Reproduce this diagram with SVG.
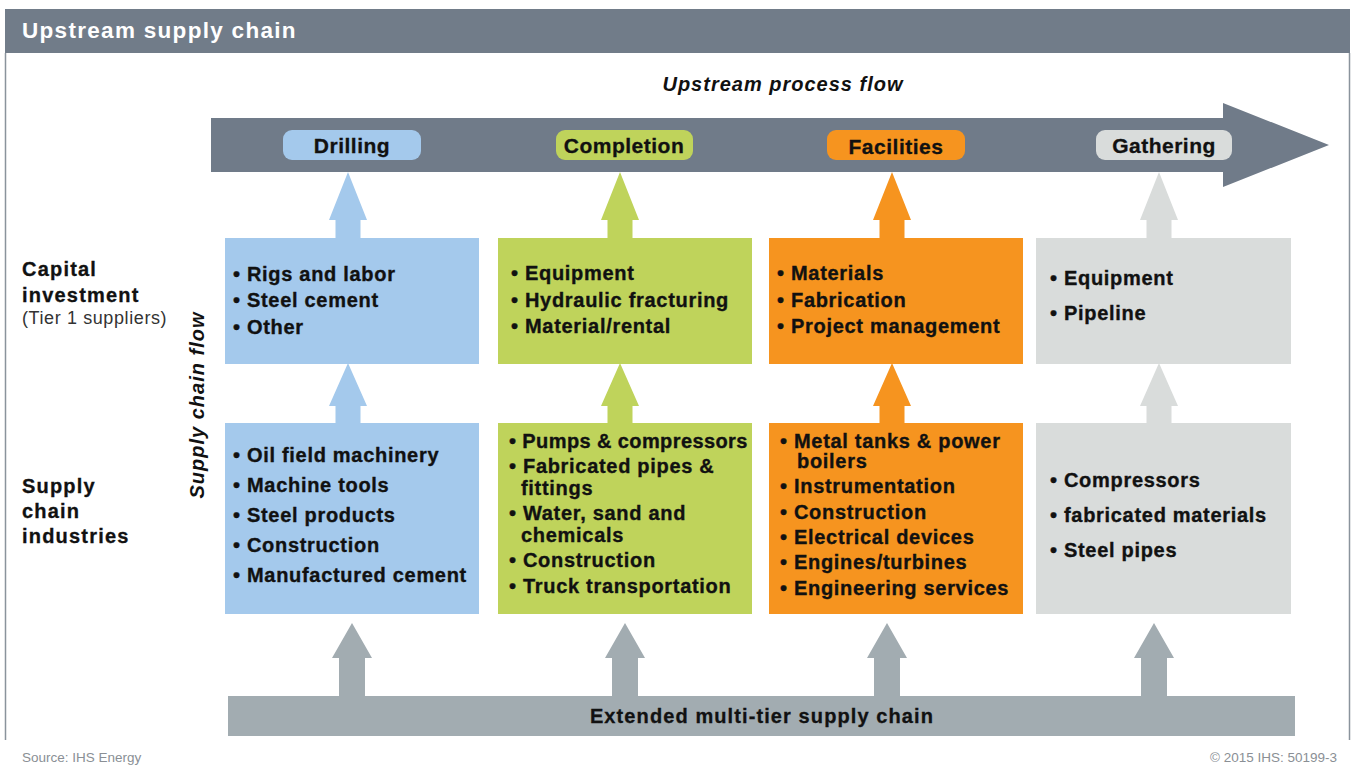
<svg xmlns="http://www.w3.org/2000/svg" width="1352" height="775" viewBox="0 0 1352 775">
<style>
.t{font-family:"Liberation Sans",Arial,sans-serif;font-weight:bold;fill:#111;}
.bx{font-family:"Liberation Sans",Arial,sans-serif;font-weight:bold;font-size:20px;letter-spacing:0.7px;fill:#111;stroke:#111;stroke-width:0.35px;}
.pill{font-family:"Liberation Sans",Arial,sans-serif;font-weight:bold;font-size:21px;letter-spacing:0.5px;fill:#111;text-anchor:middle;stroke:#111;stroke-width:0.3px;}
.lbl{font-family:"Liberation Sans",Arial,sans-serif;font-weight:bold;font-size:20px;letter-spacing:1.2px;fill:#111;stroke:#111;stroke-width:0.3px;}
.foot{font-family:"Liberation Sans",Arial,sans-serif;font-size:13.5px;fill:#8a8f95;}
.blue{fill:#a4c9ec;}
.green{fill:#bfd35b;}
.orange{fill:#f6941f;}
.lgray{fill:#d9dcdb;}
.bgray{fill:#a2acb1;}
</style>
<rect width="1352" height="775" fill="#ffffff"/>
<g id="frame">
<line x1="5.5" y1="53" x2="5.5" y2="740" stroke="#8a939c" stroke-width="1.5"/>
<line x1="1349.5" y1="53" x2="1349.5" y2="740" stroke="#8a939c" stroke-width="1.5"/>
</g>
<g id="header">
<rect x="5" y="9" width="1345" height="44" fill="#717c89"/>
<text x="22" y="38" font-family="Liberation Sans, Arial, sans-serif" font-weight="bold" font-size="22.5" letter-spacing="1.3" fill="#ffffff">Upstream supply chain</text>
</g>
<g id="process-flow">
<text x="783" y="91" class="t" font-size="20" font-style="italic" text-anchor="middle" letter-spacing="1">Upstream process flow</text>
<polygon points="211,118 1223,118 1223,103 1329,145 1223,187 1223,172 211,172" fill="#707b89"/>
</g>
<g id="stage-drilling">
<rect x="283" y="130" width="138" height="30" rx="9" class="blue"/>
<text x="352" y="153" class="pill">Drilling</text>
</g>
<g id="stage-completion">
<rect x="556" y="130" width="137" height="30" rx="9" class="green"/>
<text x="624" y="153" class="pill">Completion</text>
</g>
<g id="stage-facilities">
<rect x="827" y="130" width="138" height="30" rx="9" class="orange"/>
<text x="896" y="154" class="pill">Facilities</text>
</g>
<g id="stage-gathering">
<rect x="1096" y="130" width="136" height="30" rx="9" class="lgray"/>
<text x="1164" y="153" class="pill">Gathering</text>
</g>
<g id="connectors">
<polygon class="blue" points="348,172 367,220 360.5,220 360.5,239 335.5,239 335.5,220 329,220"/>
<polygon class="green" points="620,172 639,220 632.5,220 632.5,239 607.5,239 607.5,220 601,220"/>
<polygon class="orange" points="892,172 911,220 904.5,220 904.5,239 879.5,239 879.5,220 873,220"/>
<polygon class="lgray" points="1159,172 1178,220 1171.5,220 1171.5,239 1146.5,239 1146.5,220 1140,220"/>
<polygon class="blue" points="348,363 367,406 360.5,406 360.5,424 335.5,424 335.5,406 329,406"/>
<polygon class="green" points="620,363 639,406 632.5,406 632.5,424 607.5,424 607.5,406 601,406"/>
<polygon class="orange" points="892,363 911,406 904.5,406 904.5,424 879.5,424 879.5,406 873,406"/>
<polygon class="lgray" points="1159,363 1178,406 1171.5,406 1171.5,424 1146.5,424 1146.5,406 1140,406"/>
<polygon class="bgray" points="352,623 372,658 365,658 365,697 339,697 339,658 332,658"/>
<polygon class="bgray" points="625,623 645,658 638,658 638,697 612,697 612,658 605,658"/>
<polygon class="bgray" points="887,623 907,658 900,658 900,697 874,697 874,658 867,658"/>
<polygon class="bgray" points="1154,623 1174,658 1167,658 1167,697 1141,697 1141,658 1134,658"/>
</g>
<g id="label-capital">
<text x="22" y="276" class="lbl">Capital</text>
<text x="22" y="302" class="lbl">investment</text>
<text x="22" y="324" font-family="Liberation Sans, Arial, sans-serif" font-size="18" letter-spacing="0.6" fill="#333">(Tier 1 suppliers)</text>
</g>
<g id="label-supply">
<text x="22" y="493" class="lbl">Supply</text>
<text x="22" y="518" class="lbl">chain</text>
<text x="22" y="543" class="lbl">industries</text>
</g>
<g id="label-flow">
<text transform="translate(204,405) rotate(-90)" x="0" y="0" class="t" font-size="20" font-style="italic" text-anchor="middle" letter-spacing="1">Supply chain flow</text>
</g>
<g id="drilling-tier1">
<rect x="225" y="238" width="254" height="126" class="blue"/>
<text class="bx"><tspan x="233" y="281">• Rigs and labor</tspan><tspan x="233" y="307">• Steel cement</tspan><tspan x="233" y="334">• Other</tspan></text>
</g>
<g id="completion-tier1">
<rect x="498" y="238" width="254" height="126" class="green"/>
<text class="bx"><tspan x="511" y="280">• Equipment</tspan><tspan x="511" y="307">• Hydraulic fracturing</tspan><tspan x="511" y="333">• Material/rental</tspan></text>
</g>
<g id="facilities-tier1">
<rect x="769" y="238" width="254" height="126" class="orange"/>
<text class="bx"><tspan x="777" y="280">• Materials</tspan><tspan x="777" y="307">• Fabrication</tspan><tspan x="777" y="333">• Project management</tspan></text>
</g>
<g id="gathering-tier1">
<rect x="1036" y="238" width="255" height="126" class="lgray"/>
<text class="bx"><tspan x="1050" y="285">• Equipment</tspan><tspan x="1050" y="320">• Pipeline</tspan></text>
</g>
<g id="drilling-industries">
<rect x="225" y="423" width="254" height="191" class="blue"/>
<text class="bx"><tspan x="233" y="462">• Oil field machinery</tspan><tspan x="233" y="492">• Machine tools</tspan><tspan x="233" y="522">• Steel products</tspan><tspan x="233" y="552">• Construction</tspan><tspan x="233" y="582">• Manufactured cement</tspan></text>
</g>
<g id="completion-industries">
<rect x="498" y="423" width="254" height="191" class="green"/>
<text class="bx"><tspan x="509" y="448" style="letter-spacing:0.4px">• Pumps &amp; compressors</tspan><tspan x="509" y="473">• Fabricated pipes &amp;</tspan><tspan x="521" y="495">fittings</tspan><tspan x="509" y="520">• Water, sand and</tspan><tspan x="521" y="542">chemicals</tspan><tspan x="509" y="567">• Construction</tspan><tspan x="509" y="593">• Truck transportation</tspan></text>
</g>
<g id="facilities-industries">
<rect x="769" y="423" width="254" height="191" class="orange"/>
<text class="bx"><tspan x="780" y="448">• Metal tanks &amp; power</tspan><tspan x="797" y="468">boilers</tspan><tspan x="780" y="493">• Instrumentation</tspan><tspan x="780" y="519">• Construction</tspan><tspan x="780" y="544">• Electrical devices</tspan><tspan x="780" y="569">• Engines/turbines</tspan><tspan x="780" y="595">• Engineering services</tspan></text>
</g>
<g id="gathering-industries">
<rect x="1036" y="423" width="255" height="191" class="lgray"/>
<text class="bx"><tspan x="1050" y="487">• Compressors</tspan><tspan x="1050" y="522">• fabricated materials</tspan><tspan x="1050" y="557">• Steel pipes</tspan></text>
</g>
<g id="extended-chain">
<rect x="228" y="696" width="1067" height="40" class="bgray"/>
<text x="762" y="723" class="t" font-size="20" letter-spacing="1.1" text-anchor="middle" stroke="#111" stroke-width="0.3">Extended multi-tier supply chain</text>
</g>
<g id="footer">
<text x="22" y="762" class="foot">Source: IHS Energy</text>
<text x="1337" y="762" class="foot" text-anchor="end">© 2015 IHS: 50199-3</text>
</g>
</svg>
